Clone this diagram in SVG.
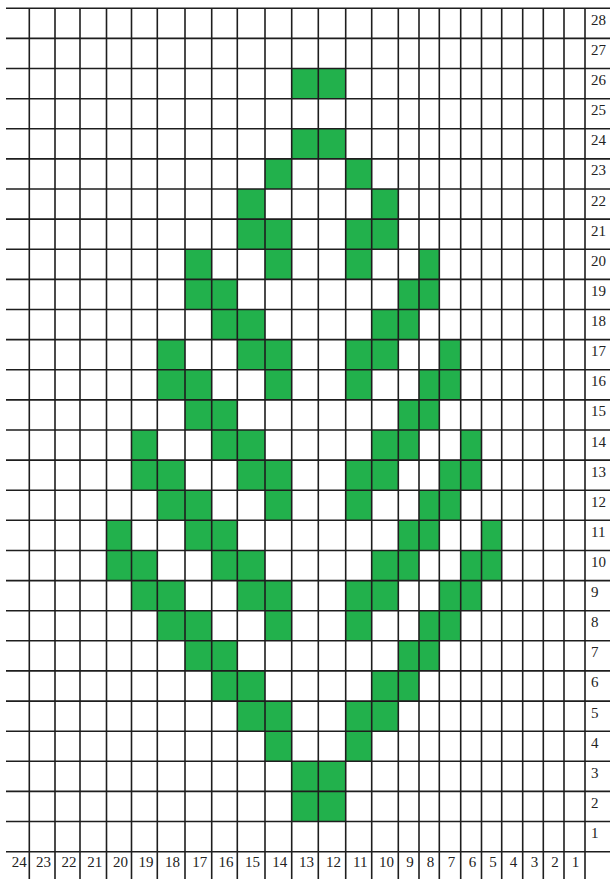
<svg xmlns="http://www.w3.org/2000/svg" width="610" height="879" viewBox="0 0 610 879">
<style>
.bg{fill:#ffffff}
.g{fill:#22b14c}
.ln{stroke:#1e1e1e;stroke-width:1.6;fill:none}
.t{font-family:"Liberation Serif","Times New Roman",serif;font-size:15px;fill:#222}
.b{text-anchor:middle}
</style>
<rect class="bg" x="0" y="0" width="610" height="879"/>
<g id="cells">
<rect class="g" x="291.7" y="68.5" width="54" height="30.1"/>
<rect class="g" x="291.7" y="128.8" width="54" height="30.1"/>
<rect class="g" x="265" y="158.9" width="26.7" height="30.1"/>
<rect class="g" x="345.7" y="158.9" width="26" height="30.1"/>
<rect class="g" x="237.3" y="189" width="27.7" height="30.1"/>
<rect class="g" x="371.7" y="189" width="26.6" height="30.1"/>
<rect class="g" x="237.3" y="219.1" width="54.4" height="30.1"/>
<rect class="g" x="345.7" y="219.1" width="52.6" height="30.1"/>
<rect class="g" x="185" y="249.3" width="26.7" height="30.1"/>
<rect class="g" x="265" y="249.3" width="26.7" height="30.1"/>
<rect class="g" x="345.7" y="249.3" width="26" height="30.1"/>
<rect class="g" x="419" y="249.3" width="20.3" height="30.1"/>
<rect class="g" x="185" y="279.4" width="52.3" height="30.1"/>
<rect class="g" x="398.3" y="279.4" width="41" height="30.1"/>
<rect class="g" x="211.7" y="309.5" width="53.3" height="30.1"/>
<rect class="g" x="371.7" y="309.5" width="47.3" height="30.1"/>
<rect class="g" x="157.3" y="339.6" width="27.7" height="30.1"/>
<rect class="g" x="237.3" y="339.6" width="54.4" height="30.1"/>
<rect class="g" x="345.7" y="339.6" width="52.6" height="30.1"/>
<rect class="g" x="439.3" y="339.6" width="21.4" height="30.1"/>
<rect class="g" x="157.3" y="369.7" width="54.4" height="30.1"/>
<rect class="g" x="265" y="369.7" width="26.7" height="30.1"/>
<rect class="g" x="345.7" y="369.7" width="26" height="30.1"/>
<rect class="g" x="419" y="369.7" width="41.7" height="30.1"/>
<rect class="g" x="185" y="399.9" width="52.3" height="30.1"/>
<rect class="g" x="398.3" y="399.9" width="41" height="30.1"/>
<rect class="g" x="131.5" y="430" width="25.8" height="30.1"/>
<rect class="g" x="211.7" y="430" width="53.3" height="30.1"/>
<rect class="g" x="371.7" y="430" width="47.3" height="30.1"/>
<rect class="g" x="460.7" y="430" width="20.8" height="30.1"/>
<rect class="g" x="131.5" y="460.1" width="53.5" height="30.1"/>
<rect class="g" x="237.3" y="460.1" width="54.4" height="30.1"/>
<rect class="g" x="345.7" y="460.1" width="52.6" height="30.1"/>
<rect class="g" x="439.3" y="460.1" width="42.2" height="30.1"/>
<rect class="g" x="157.3" y="490.2" width="54.4" height="30.1"/>
<rect class="g" x="265" y="490.2" width="26.7" height="30.1"/>
<rect class="g" x="345.7" y="490.2" width="26" height="30.1"/>
<rect class="g" x="419" y="490.2" width="41.7" height="30.1"/>
<rect class="g" x="106.5" y="520.3" width="25" height="30.1"/>
<rect class="g" x="185" y="520.3" width="52.3" height="30.1"/>
<rect class="g" x="398.3" y="520.3" width="41" height="30.1"/>
<rect class="g" x="481.5" y="520.3" width="20.2" height="30.1"/>
<rect class="g" x="106.5" y="550.5" width="50.8" height="30.1"/>
<rect class="g" x="211.7" y="550.5" width="53.3" height="30.1"/>
<rect class="g" x="371.7" y="550.5" width="47.3" height="30.1"/>
<rect class="g" x="460.7" y="550.5" width="41" height="30.1"/>
<rect class="g" x="131.5" y="580.6" width="53.5" height="30.1"/>
<rect class="g" x="237.3" y="580.6" width="54.4" height="30.1"/>
<rect class="g" x="345.7" y="580.6" width="52.6" height="30.1"/>
<rect class="g" x="439.3" y="580.6" width="42.2" height="30.1"/>
<rect class="g" x="157.3" y="610.7" width="54.4" height="30.1"/>
<rect class="g" x="265" y="610.7" width="26.7" height="30.1"/>
<rect class="g" x="345.7" y="610.7" width="26" height="30.1"/>
<rect class="g" x="419" y="610.7" width="41.7" height="30.1"/>
<rect class="g" x="185" y="640.8" width="52.3" height="30.1"/>
<rect class="g" x="398.3" y="640.8" width="41" height="30.1"/>
<rect class="g" x="211.7" y="670.9" width="53.3" height="30.1"/>
<rect class="g" x="371.7" y="670.9" width="47.3" height="30.1"/>
<rect class="g" x="237.3" y="701.1" width="54.4" height="30.1"/>
<rect class="g" x="345.7" y="701.1" width="52.6" height="30.1"/>
<rect class="g" x="265" y="731.2" width="26.7" height="30.1"/>
<rect class="g" x="345.7" y="731.2" width="26" height="30.1"/>
<rect class="g" x="291.7" y="761.3" width="54" height="30.1"/>
<rect class="g" x="291.7" y="791.4" width="54" height="30.1"/>
</g>
<g id="grid">
<path class="ln" d="M6 8.3H610M6 38.4H610M6 68.5H610M6 98.7H610M6 128.8H610M6 158.9H610M6 189H610M6 219.1H610M6 249.3H610M6 279.4H610M6 309.5H610M6 339.6H610M6 369.7H610M6 399.9H610M6 430H610M6 460.1H610M6 490.2H610M6 520.3H610M6 550.5H610M6 580.6H610M6 610.7H610M6 640.8H610M6 670.9H610M6 701.1H610M6 731.2H610M6 761.3H610M6 791.4H610M6 821.5H610M6 851.7H610"/>
<path class="ln" d="M29.3 8V879M55 8V879M80 8V879M106.5 8V879M131.5 8V879M157.3 8V879M185 8V879M211.7 8V879M237.3 8V879M265 8V879M291.7 8V879M318.3 8V879M345.7 8V879M371.7 8V879M398.3 8V879M419 8V879M439.3 8V879M460.7 8V879M481.5 8V879M501.7 8V879M522.7 8V879M543.3 8V879M564 8V879M585 8V879"/>
</g>
<g id="row-labels" class="t">
<text x="591" y="24.8">28</text>
<text x="591" y="54.9">27</text>
<text x="591" y="85">26</text>
<text x="591" y="115.2">25</text>
<text x="591" y="145.3">24</text>
<text x="591" y="175.4">23</text>
<text x="591" y="205.5">22</text>
<text x="591" y="235.6">21</text>
<text x="591" y="265.8">20</text>
<text x="591" y="295.9">19</text>
<text x="591" y="326">18</text>
<text x="591" y="356.1">17</text>
<text x="591" y="386.2">16</text>
<text x="591" y="416.4">15</text>
<text x="591" y="446.5">14</text>
<text x="591" y="476.6">13</text>
<text x="591" y="506.7">12</text>
<text x="591" y="536.8">11</text>
<text x="591" y="567">10</text>
<text x="591" y="597.1">9</text>
<text x="591" y="627.2">8</text>
<text x="591" y="657.3">7</text>
<text x="591" y="687.4">6</text>
<text x="591" y="717.6">5</text>
<text x="591" y="747.7">4</text>
<text x="591" y="777.8">3</text>
<text x="591" y="807.9">2</text>
<text x="591" y="838">1</text>
</g>
<g id="col-labels" class="t b">
<text x="19.2" y="867">24</text>
<text x="43.6" y="867">23</text>
<text x="69" y="867">22</text>
<text x="94.7" y="867">21</text>
<text x="120.5" y="867">20</text>
<text x="145.9" y="867">19</text>
<text x="172.6" y="867">18</text>
<text x="199.8" y="867">17</text>
<text x="226" y="867">16</text>
<text x="252.6" y="867">15</text>
<text x="279.8" y="867">14</text>
<text x="306.5" y="867">13</text>
<text x="333.5" y="867">12</text>
<text x="360.2" y="867">11</text>
<text x="386.5" y="867">10</text>
<text x="410" y="867">9</text>
<text x="430.5" y="867">8</text>
<text x="451.5" y="867">7</text>
<text x="472.5" y="867">6</text>
<text x="493" y="867">5</text>
<text x="513.5" y="867">4</text>
<text x="534.5" y="867">3</text>
<text x="555" y="867">2</text>
<text x="575.5" y="867">1</text>
</g>
</svg>
